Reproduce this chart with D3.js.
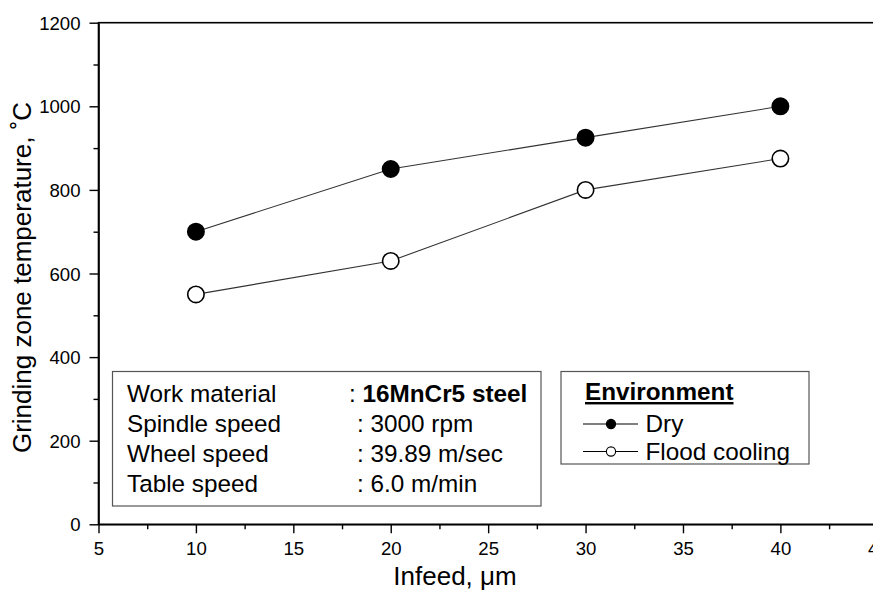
<!DOCTYPE html>
<html>
<head>
<meta charset="utf-8">
<script src="https://cdn.jsdelivr.net/npm/d3@7"></script>
<style>
  html, body { margin: 0; padding: 0; background: #fff; }
  svg { display: block; font-family: "Liberation Sans", Arial, sans-serif; }
</style>
</head>
<body>
<svg id="chart" width="873" height="590"></svg>
<script>
const infeed = [10, 20, 30, 40];
const dryTemp = [700, 850, 925, 1000];
const floodTemp = [550, 630, 800, 875];
const xMajorTicks = [5, 10, 15, 20, 25, 30, 35, 40, 45];
const yMajorTicks = [0, 200, 400, 600, 800, 1000, 1200];
const seriesNames = ["Dry", "Flood cooling"];
const infoLabels = ["Work material", "Spindle speed", "Wheel speed", "Table speed"];
const infoValues = [": 16MnCr5 steel", ": 3000 rpm", ": 39.89 m/sec", ": 6.0 m/min"];

const svg = d3.select("#chart");
const L = 98.5, R = 877.8, T = 22.7, B = 524.3;
const x = d3.scaleLinear().domain([5, 45]).range([L, R]);
const y = d3.scaleLinear().domain([0, 1200]).range([B, T]);

// frame (top & right)
svg.append("rect").attr("x", L).attr("y", T).attr("width", R - L).attr("height", B - T)
  .attr("fill", "none").attr("stroke", "#000").attr("stroke-width", 1.6);

// minor ticks
const xMinor = d3.range(7.5, 45, 5);
const yMinor = d3.range(100, 1200, 200);
const xAxisMinor = d3.axisBottom(x).tickValues(xMinor).tickSize(5).tickFormat("");
const yAxisMinor = d3.axisLeft(y).tickValues(yMinor).tickSize(5).tickFormat("");
svg.append("g").attr("transform", `translate(0,${B})`).call(xAxisMinor)
  .call(g => g.select(".domain").remove())
  .selectAll("line").attr("stroke-width", 1.4);
svg.append("g").attr("transform", `translate(${L},0)`).call(yAxisMinor)
  .call(g => g.select(".domain").remove())
  .selectAll("line").attr("stroke-width", 1.4);

// major axes
const fmt = d3.format("d");
const xAxis = d3.axisBottom(x).tickValues(xMajorTicks).tickFormat(fmt).tickSize(9).tickPadding(8).tickSizeOuter(0);
const yAxis = d3.axisLeft(y).tickValues(yMajorTicks).tickFormat(fmt).tickSize(9).tickPadding(9).tickSizeOuter(0);
const gx = svg.append("g").attr("transform", `translate(0,${B})`).call(xAxis);
const gy = svg.append("g").attr("transform", `translate(${L},0)`).call(yAxis);
[gx, gy].forEach(g => {
  g.attr("font-size", null).attr("font-family", null);
  g.select(".domain").attr("stroke-width", 1.6);
  g.selectAll(".tick line").attr("stroke-width", 1.4);
  g.selectAll(".tick text").style("font-size", "18.6px").attr("fill", "#000")
    .style("font-family", "'Liberation Sans', Arial, sans-serif");
});
gy.selectAll(".tick text").attr("dy", "0.35em");

// axis titles
svg.append("text").attr("x", 455).attr("y", 585).attr("text-anchor", "middle")
  .style("font-size", "26px").text("Infeed, \u03bcm");
svg.append("text").attr("transform", `translate(31,${(T + B) / 2 + 4}) rotate(-90)`)
  .attr("text-anchor", "middle").style("font-size", "26px")
  .text("Grinding zone temperature, \u02daC");

// lines and markers
const dryData = infeed.map((v, i) => [v, dryTemp[i]]);
const floodData = infeed.map((v, i) => [v, floodTemp[i]]);
const line = d3.line().x(d => x(d[0])).y(d => y(d[1]));
[[dryData, "#000"], [floodData, "#fff"]].forEach(([data, fill]) => {
  svg.append("path").datum(data).attr("d", line).attr("fill", "none")
    .attr("stroke", "#333").attr("stroke-width", 1.1);
  svg.append("g").selectAll("circle").data(data).join("circle")
    .attr("cx", d => x(d[0])).attr("cy", d => y(d[1])).attr("r", 8.2)
    .attr("fill", fill).attr("stroke", "#000").attr("stroke-width", 1.6);
});

// info box
svg.append("rect").attr("x", 112.5).attr("y", 371.5).attr("width", 428.5).attr("height", 134.5)
  .attr("fill", "#fff").attr("stroke", "#555").attr("stroke-width", 1.2);
const info = svg.append("g").style("font-size", "24.3px").attr("fill", "#000");
infoLabels.forEach((lab, i) => {
  const by = 401.5 + i * 30;
  info.append("text").attr("x", 127).attr("y", by).text(lab);
  const t = info.append("text").attr("x", i === 0 ? 349 : 357).attr("y", by);
  if (i === 0) {
    t.append("tspan").text(": ");
    t.append("tspan").attr("font-weight", "bold").text(infoValues[i].slice(2));
  } else {
    t.text(infoValues[i]);
  }
});

// legend
svg.append("rect").attr("x", 561).attr("y", 371.5).attr("width", 248).attr("height", 92.5)
  .attr("fill", "#fff").attr("stroke", "#555").attr("stroke-width", 1.2);
const leg = svg.append("g").style("font-size", "24.3px").attr("fill", "#000");
leg.append("text").attr("x", 585).attr("y", 400).attr("font-weight", "bold")
  .attr("text-decoration", "underline").text("Environment");
seriesNames.forEach((name, i) => {
  const by = 432 + i * 27.5;
  const cy = by - 8;
  leg.append("line").attr("x1", 583).attr("x2", 638).attr("y1", cy).attr("y2", cy)
    .attr("stroke", "#000").attr("stroke-width", 1.1);
  leg.append("circle").attr("cx", 611).attr("cy", cy).attr("r", 4.6)
    .attr("fill", i === 0 ? "#000" : "#fff").attr("stroke", "#000").attr("stroke-width", 1.1);
  leg.append("text").attr("x", 645.5).attr("y", by).text(name);
});
</script>
</body>
</html>
